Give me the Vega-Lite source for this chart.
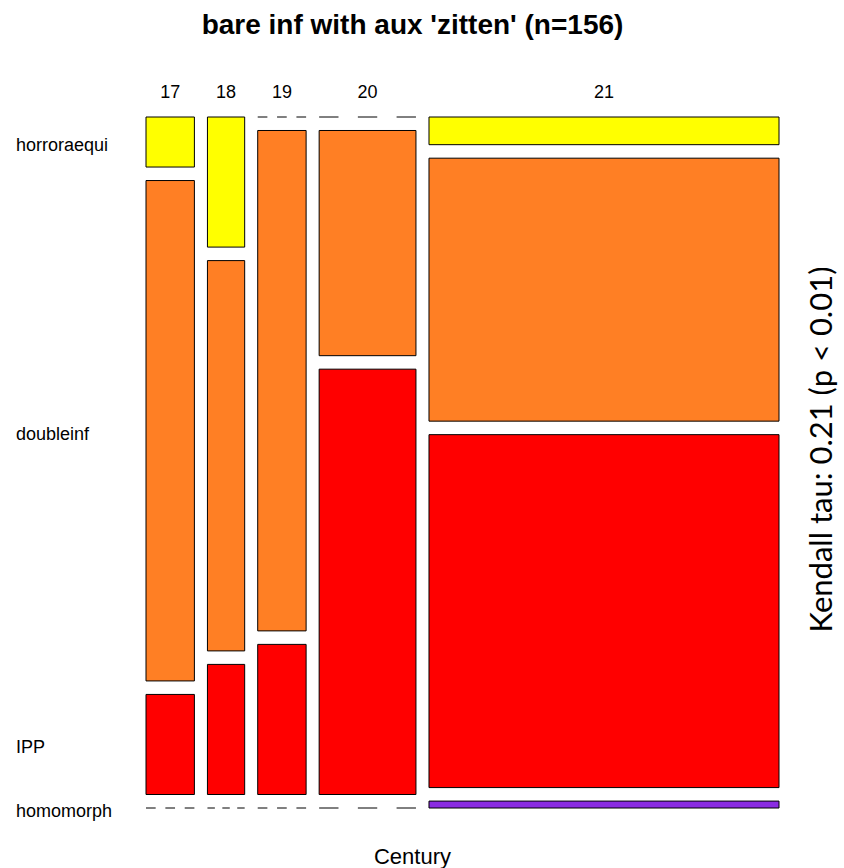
{
  "$schema": "https://vega.github.io/schema/vega-lite/v6.json",
  "width": 633,
  "height": 691,
  "autosize": {"type": "none"},
  "padding": {"left": 146, "top": 117, "right": 65, "bottom": 60},
  "background": "white",
  "title": {
    "text": "bare inf with aux 'zitten' (n=156)",
    "font": "Liberation Sans",
    "fontSize": 28,
    "fontWeight": "bold",
    "color": "black",
    "anchor": "middle",
    "frame": "group",
    "baseline": "alphabetic",
    "offset": 22,
    "dx": -50
  },
  "data": {
    "values": [
      {"century": "17", "response": "horroraequi", "count": 1},
      {"century": "17", "response": "doubleinf", "count": 10},
      {"century": "17", "response": "IPP", "count": 2},
      {"century": "17", "response": "homomorph", "count": 0},
      {"century": "18", "response": "horroraequi", "count": 2},
      {"century": "18", "response": "doubleinf", "count": 6},
      {"century": "18", "response": "IPP", "count": 2},
      {"century": "18", "response": "homomorph", "count": 0},
      {"century": "19", "response": "horroraequi", "count": 0},
      {"century": "19", "response": "doubleinf", "count": 10},
      {"century": "19", "response": "IPP", "count": 3},
      {"century": "19", "response": "homomorph", "count": 0},
      {"century": "20", "response": "horroraequi", "count": 0},
      {"century": "20", "response": "doubleinf", "count": 9},
      {"century": "20", "response": "IPP", "count": 17},
      {"century": "20", "response": "homomorph", "count": 0},
      {"century": "21", "response": "horroraequi", "count": 4},
      {"century": "21", "response": "doubleinf", "count": 38},
      {"century": "21", "response": "IPP", "count": 51},
      {"century": "21", "response": "homomorph", "count": 1}
    ]
  },
  "transform": [
    {"calculate": "indexof(['horroraequi','doubleinf','IPP','homomorph'], datum.response)", "as": "ri"},
    {"calculate": "toNumber(datum.century) - 17", "as": "ci"},
    {"joinaggregate": [{"op": "sum", "field": "count", "as": "colTotal"}], "groupby": ["century"]},
    {"stack": "count", "groupby": [], "sort": [{"field": "ci", "order": "ascending"}, {"field": "ri", "order": "ascending"}], "as": ["cs0", "cs1"]},
    {"joinaggregate": [{"op": "min", "field": "cs0", "as": "colStart"}], "groupby": ["century"]},
    {"stack": "count", "groupby": ["century"], "sort": [{"field": "ri", "order": "ascending"}], "as": ["rs0", "rs1"]},
    {"calculate": "datum.colStart + datum.ci * 3.5", "as": "x0"},
    {"calculate": "datum.x0 + datum.colTotal", "as": "x1"},
    {"calculate": "datum.rs0 / datum.colTotal + datum.ri * 0.02075", "as": "y0"},
    {"calculate": "datum.rs1 / datum.colTotal + datum.ri * 0.02075", "as": "y1"},
    {"calculate": "(datum.x0 + datum.x1) / 2", "as": "xc"},
    {"calculate": "(datum.y0 + datum.y1) / 2", "as": "yc"}
  ],
  "layer": [
    {
      "transform": [{"filter": "datum.count > 0"}],
      "mark": {"type": "rect", "stroke": "black", "strokeWidth": 1, "opacity": 1},
      "encoding": {
        "x": {"field": "x0", "type": "quantitative", "scale": {"domain": [0, 170], "nice": false, "zero": false}, "title": "Century"},
        "x2": {"field": "x1"},
        "y": {"field": "y0", "type": "quantitative", "scale": {"domain": [0, 1.06225], "nice": false, "zero": false, "reverse": true}, "title": "Kendall tau: 0.21 (p < 0.01)", "axis": {"orient": "right"}},
        "y2": {"field": "y1"},
        "color": {
          "field": "response",
          "type": "nominal",
          "scale": {"domain": ["horroraequi", "doubleinf", "IPP", "homomorph"], "range": ["#FFFF00", "#FF7F24", "#FF0000", "#8A2BE2"]},
          "legend": null
        }
      }
    },
    {
      "transform": [{"filter": "datum.count == 0"}],
      "mark": {"type": "rule", "color": "black", "strokeWidth": 1, "strokeDash": {"expr": "[(scale('x', datum.x1) - scale('x', datum.x0)) / 5]"}},
      "encoding": {
        "x": {"field": "x0", "type": "quantitative", "title": "Century"},
        "x2": {"field": "x1"},
        "y": {"field": "y0", "type": "quantitative", "title": "Kendall tau: 0.21 (p < 0.01)", "axis": {"orient": "right"}}
      }
    },
    {
      "transform": [{"filter": "datum.response == 'horroraequi'"}],
      "mark": {"type": "text", "font": "Liberation Sans", "fontSize": 18, "color": "black", "align": "center", "baseline": "alphabetic"},
      "encoding": {
        "x": {"field": "xc", "type": "quantitative", "title": "Century"},
        "y": {"datum": -0.0292, "type": "quantitative", "title": "Kendall tau: 0.21 (p < 0.01)", "axis": {"orient": "right"}},
        "text": {"field": "century"}
      }
    },
    {
      "transform": [{"filter": "datum.century == '17'"}],
      "mark": {"type": "text", "font": "Liberation Sans", "fontSize": 18, "color": "black", "align": "left", "baseline": "alphabetic", "dy": 9},
      "encoding": {
        "x": {"datum": -34.9, "type": "quantitative", "title": "Century"},
        "y": {"field": "yc", "type": "quantitative", "title": "Kendall tau: 0.21 (p < 0.01)", "axis": {"orient": "right"}},
        "text": {"field": "response"}
      }
    }
  ],
  "config": {
    "view": {"stroke": null},
    "axis": {"domain": false, "ticks": false, "labels": false, "grid": false},
    "axisX": {"titleX": 266, "titleY": 55, "titleAlign": "center", "titleBaseline": "alphabetic", "titleFont": "Liberation Sans", "titleFontSize": 22, "titleFontWeight": "normal", "titleColor": "black"},
    "axisY": {"titleX": 52, "titleY": 332, "titleAngle": 270, "titleAlign": "center", "titleBaseline": "alphabetic", "titleFont": "Lato", "titleFontSize": 31, "titleFontWeight": "normal", "titleColor": "black"}
  }
}
